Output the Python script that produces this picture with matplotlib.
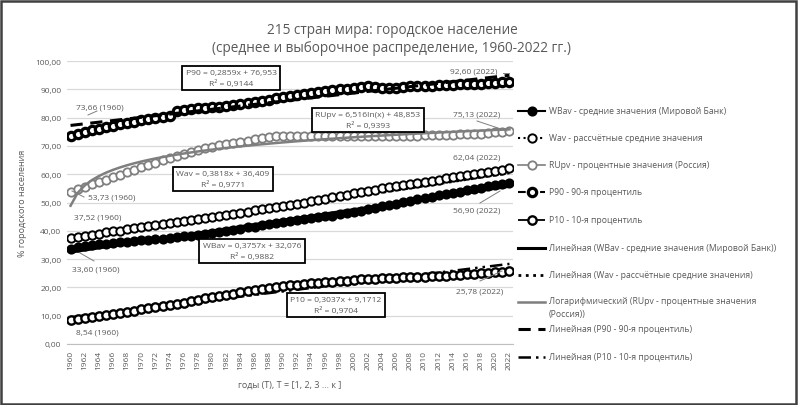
import numpy as np
import matplotlib
matplotlib.use("Agg")
import matplotlib.pyplot as plt
from matplotlib.lines import Line2D
from matplotlib.patches import Rectangle

plt.rcParams['font.family'] = ['Open Sans', 'DejaVu Sans']

# --- data ---
years = list(range(1960, 2023))

wbav = [33.60, 34.1, 34.5, 34.9, 35.2, 35.5, 35.8, 36.0, 36.2, 36.4,
        36.6, 36.8, 37.0, 37.2, 37.5, 37.7, 38.0, 38.3, 38.6, 38.9,
        39.3, 39.6, 40.0, 40.4, 40.8, 41.2, 41.5, 41.9, 42.3, 42.6,
        43.0, 43.3, 43.7, 44.0, 44.4, 44.7, 45.1, 45.4, 45.8, 46.2,
        46.7, 47.1, 47.6, 48.1, 48.6, 49.1, 49.6, 50.1, 50.6, 51.1,
        51.6, 52.1, 52.5, 52.9, 53.4, 53.8, 54.3, 54.7, 55.2, 55.7,
        56.2, 56.5, 56.90]

wav = [37.52, 37.9, 38.3, 38.6, 39.0, 39.4, 39.8, 40.1, 40.5, 40.9,
       41.2, 41.6, 42.0, 42.4, 42.7, 43.1, 43.5, 43.8, 44.2, 44.6,
       45.0, 45.3, 45.7, 46.1, 46.4, 46.8, 47.2, 47.6, 47.9, 48.3,
       48.7, 49.1, 49.6, 50.0, 50.5, 50.9, 51.4, 51.8, 52.3, 52.7,
       53.2, 53.6, 54.1, 54.5, 55.0, 55.4, 55.8, 56.2, 56.6, 56.9,
       57.3, 57.7, 58.1, 58.5, 58.9, 59.2, 59.6, 60.0, 60.4, 60.8,
       61.2, 61.6, 62.04]

rupv = [53.73, 54.6, 55.5, 56.4, 57.3, 58.1, 59.0, 59.8, 60.7, 61.6,
        62.5, 63.3, 64.1, 64.9, 65.7, 66.4, 67.1, 67.8, 68.5, 69.1,
        69.75, 70.2, 70.6, 71.0, 71.5, 71.9, 72.3, 72.7, 73.0, 73.4,
        73.39, 73.38, 73.37, 73.36, 73.36, 73.35, 73.35, 73.35, 73.35, 73.35,
        73.35, 73.35, 73.36, 73.40, 73.43, 73.47, 73.51, 73.55, 73.60, 73.65,
        73.69, 73.74, 73.79, 73.85, 73.94, 74.05, 74.15, 74.26, 74.38, 74.50,
        74.75, 74.94, 75.13]

p90 = [73.66, 74.3, 74.9, 75.5, 76.1, 76.7, 77.2, 77.7, 78.2, 78.6,
       79.0, 79.4, 79.8, 80.2, 80.6, 82.4, 82.8, 83.1, 83.3, 83.5,
       83.7, 83.9, 84.1, 84.4, 84.7, 85.0, 85.4, 85.8, 86.3, 86.8,
       87.3, 87.7, 88.1, 88.5, 88.8, 89.1, 89.4, 89.7, 90.0, 90.2,
       90.5, 90.8, 91.0, 90.8, 90.6, 90.5, 90.6, 90.8, 91.0, 91.1,
       91.2, 91.3, 91.4, 91.5, 91.6, 91.7, 91.8, 91.9, 92.0, 92.1,
       92.3, 92.5, 92.60]

p10 = [8.54, 8.9, 9.2, 9.5, 9.8, 10.2, 10.6, 11.0, 11.4, 11.8,
       12.2, 12.6, 13.0, 13.4, 13.8, 14.2, 14.6, 15.1, 15.6, 16.1,
       16.6, 17.0, 17.4, 17.8, 18.2, 18.6, 19.0, 19.4, 19.8, 20.1,
       20.4, 20.7, 21.0, 21.2, 21.4, 21.6, 21.8, 22.0, 22.2, 22.4,
       22.6, 22.8, 23.0, 23.1, 23.2, 23.3, 23.4, 23.5, 23.6, 23.7,
       23.8, 23.9, 24.0, 24.2, 24.4, 24.5, 24.6, 24.8, 25.0, 25.2,
       25.4, 25.6, 25.78]

# trend coefficients as printed on the chart (slope, intercept)
trend_wbav = (0.3757, 32.076)
trend_wav = (0.3818, 36.409)
trend_rupv = (6.516, 48.853)   # a*ln(x) + b
trend_p90 = (0.2859, 76.953)
trend_p10 = (0.3037, 9.1712)

W, H = 798, 406
GRAY = '#595959'


def fp(x, y):
    # pixel -> figure fraction
    return x / W, 1 - y / H


fig = plt.figure(figsize=(W / 100, H / 100), dpi=100)
ax = fig.add_axes([67 / W, (H - 345) / H, (513 - 67) / W, (345 - 62) / H])

xi = np.arange(len(years))
t = xi + 1

ms = 6.0
ax.plot(xi, wbav, '-', color='black', lw=1.5, marker='o', ms=ms,
        mfc='black', mec='black', mew=1.3, zorder=3)
ax.plot(xi, wav, ':', color='black', lw=1.5, marker='o', ms=ms,
        mfc='white', mec='black', mew=1.4, zorder=3)
ax.plot(xi, rupv, '-', color='#7f7f7f', lw=1.2, marker='o', ms=ms,
        mfc='white', mec='#7f7f7f', mew=1.3, zorder=3)
ax.plot(xi, p90, '--', color='black', lw=1.5, marker='o', ms=ms,
        mfc='white', mec='black', mew=2.3, zorder=3)
ax.plot(xi, p10, '-.', color='black', lw=1.3, marker='o', ms=ms,
        mfc='white', mec='black', mew=1.7, zorder=3)

# trend lines
ax.plot(xi, trend_wbav[0] * t + trend_wbav[1], '-', color='black', lw=2.2, zorder=4)
ax.plot(xi, trend_wav[0] * t + trend_wav[1], ':', color='black', lw=2.0, zorder=2)
ax.plot(xi, trend_rupv[0] * np.log(t) + trend_rupv[1], '-', color='#7f7f7f', lw=1.8, zorder=4)
ax.plot(xi, trend_p90[0] * t + trend_p90[1], color='black', lw=2.2,
        dashes=(4, 2.5), zorder=4)
ax.plot(xi, trend_p10[0] * t + trend_p10[1], color='black', lw=1.8,
        dashes=(5, 2, 1, 2, 1, 2), zorder=2)

ax.set_ylim(0, 100)
ax.set_xlim(-0.5, len(years) - 0.5)
ax.set_yticks(range(0, 101, 10))
ax.set_yticklabels([f"{v},00" for v in range(0, 101, 10)])
ax.set_xticks(xi[::2])
ax.set_xticklabels([str(y) for y in years[::2]], rotation=90)
ax.tick_params(axis='both', length=0, labelsize=6, colors=GRAY, pad=4)
ax.grid(axis='y', color='#d9d9d9', lw=0.9)
ax.set_axisbelow(True)
for s in ['top', 'right', 'left']:
    ax.spines[s].set_visible(False)
ax.spines['bottom'].set_color('#bfbfbf')

ax.set_ylabel('% городского населения', fontsize=6.5, color=GRAY, labelpad=6)
fig.text(*fp(290, 385), 'годы (T), T = [1, 2, 3 ... к ]', fontsize=6.5,
         color=GRAY, ha='center', va='center')

fig.text(*fp(392, 30), '215 стран мира: городское население', fontsize=9.8,
         color=GRAY, ha='center', va='center')
fig.text(*fp(392, 49), '(среднее и выборочное распределение, 1960-2022 гг.)',
         fontsize=9.8, color=GRAY, ha='center', va='center')

# equation boxes
boxes = [
    ((231, 79), 'P90 = 0,2859x + 76,953\nR² = 0,9144'),
    ((368, 121), 'RUpv = 6,516ln(x) + 48,853\nR² = 0,9393'),
    ((223, 180), 'Wav = 0,3818x + 36,409\nR² = 0,9771'),
    ((252, 252), 'WBav = 0,3757x + 32,076\nR² = 0,9882'),
    ((336, 306), 'P10 = 0,3037x + 9,1712\nR² = 0,9704'),
]
for (bx, by), txt in boxes:
    fig.text(*fp(bx, by), txt, fontsize=6.1, color=GRAY, ha='center',
             va='center', linespacing=1.45, zorder=6,
             bbox=dict(boxstyle='square,pad=0.4', fc='white', ec='black', lw=1.3))

# data labels with leader lines
labels = [
    ((100, 108), '73,66 (1960)', (88, 116), (97, 112)),
    ((112, 198), '53,73 (1960)', (72, 192), (84, 198)),
    ((98, 218), '37,52 (1960)', None, None),
    ((96, 270), '33,60 (1960)', (80, 254), (94, 262)),
    ((97, 333), '8,54 (1960)', None, None),
    ((474, 72), '92,60 (2022)', (503, 74), (509, 74)),
    ((477, 115), '75,13 (2022)', (477, 122), (507, 132)),
    ((477, 158), '62,04 (2022)', None, None),
    ((477, 211), '56,90 (2022)', (480, 204), (500, 192)),
    ((480, 292), '25,78 (2022)', (480, 282), (502, 272)),
]
for (lx, ly), txt, p0, p1 in labels:
    fig.text(*fp(lx, ly), txt, fontsize=6.0, color=GRAY, ha='center', va='center')
    if p0 is not None:
        fig.add_artist(Line2D([p0[0] / W, p1[0] / W], [1 - p0[1] / H, 1 - p1[1] / H],
                              color='#7f7f7f', lw=0.7))

# legend, drawn by hand to keep Excel's even row spacing
leg = [
    (112, 'WBav - средние значения (Мировой Банк)',
     dict(ls='-', color='black', lw=1.5, marker='o', mfc='black', mec='black', mew=1.3)),
    (139, 'Wav - рассчётные средние значения',
     dict(ls=':', color='black', lw=1.5, marker='o', mfc='white', mec='black', mew=1.4)),
    (166, 'RUpv - процентные значения (Россия)',
     dict(ls='-', color='#7f7f7f', lw=1.2, marker='o', mfc='white', mec='#7f7f7f', mew=1.3)),
    (193, 'P90 - 90-я процентиль',
     dict(ls='--', color='black', lw=1.5, marker='o', mfc='white', mec='black', mew=2.3)),
    (221, 'P10 - 10-я процентиль',
     dict(ls='-.', color='black', lw=1.3, marker='o', mfc='white', mec='black', mew=1.7)),
    (249, 'Линейная (WBav - средние значения (Мировой Банк))',
     dict(ls='-', color='black', lw=2.2)),
    (276, 'Линейная (Wav - рассчётные средние значения)',
     dict(ls=':', color='black', lw=2.0)),
    (303, 'Логарифмический (RUpv - процентные значения\n(Россия))',
     dict(ls='-', color='#7f7f7f', lw=1.8)),
    (330, 'Линейная (P90 - 90-я процентиль)',
     dict(ls='--', color='black', lw=2.2, dashes=(4, 2.5))),
    (358, 'Линейная (P10 - 10-я процентиль)',
     dict(ls='-.', color='black', lw=1.8, dashes=(5, 2, 1, 2, 1, 2))),
]
for ly, txt, style in leg:
    st = dict(style)
    mk = st.pop('marker', None)
    mfc = st.pop('mfc', 'white')
    mec = st.pop('mec', 'black')
    mew = st.pop('mew', 1.2)
    fig.add_artist(Line2D([518 / W, 545 / W], [1 - ly / H] * 2, **st))
    if mk:
        fig.add_artist(Line2D([531.5 / W], [1 - ly / H], ls='none', marker=mk, ms=ms,
                              mfc=mfc, mec=mec, mew=mew))
    if '\n' in txt:
        fig.text(549 / W, 1 - (ly - 5.5) / H, txt, fontsize=6.2, color=GRAY,
                 ha='left', va='top', linespacing=1.45)
    else:
        fig.text(549 / W, 1 - ly / H, txt, fontsize=6.2, color=GRAY,
                 ha='left', va='center')

# outer frame of the chart area
fig.add_artist(Rectangle((1 / W, 1 / H), 1 - 3 / W, 1 - 3 / H, transform=fig.transFigure,
                         fill=False, ec='#404040', lw=1.8))

fig.savefig('out.png', dpi=100)
